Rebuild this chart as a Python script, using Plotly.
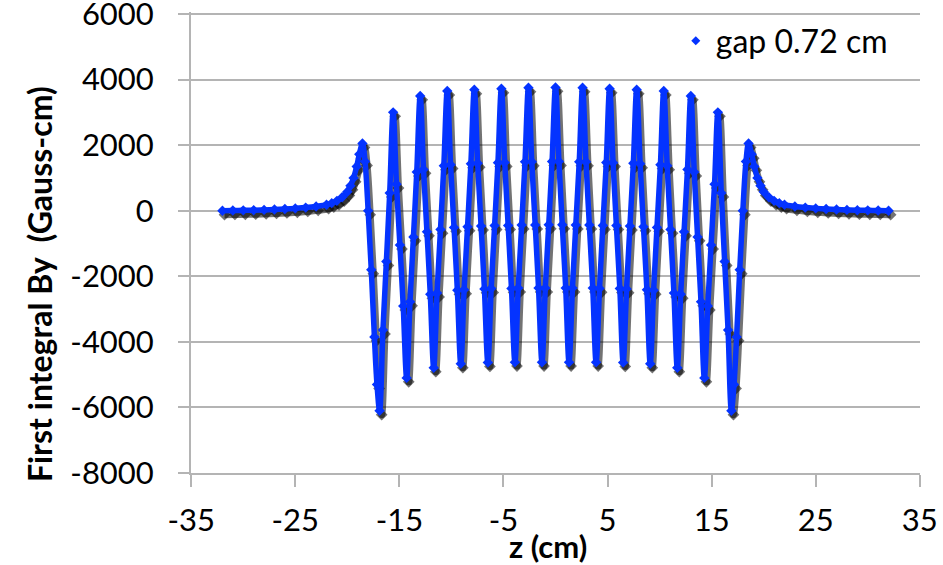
import plotly.graph_objects as go

# ---- data ----
z_cm = [
    -32.0, -31.0, -30.0, -29.0, -28.0, -27.0, -26.0, -25.0, -24.0, -23.0,
    -22.0, -21.5, -21.0, -20.5, -20.0, -19.7, -19.4, -19.1, -18.85, -18.55,
    -18.3, -18.0, -17.7, -17.4, -17.15, -16.9,
    -16.58, -16.25, -15.93, -15.6,
    -15.28, -14.95, -14.63, -14.3,
    -13.98, -13.65, -13.33, -13.0,
    -12.68, -12.35, -12.03, -11.7,
    -11.38, -11.05, -10.73, -10.4,
    -10.08, -9.75, -9.43, -9.1,
    -8.78, -8.45, -8.13, -7.8,
    -7.48, -7.15, -6.83, -6.5,
    -6.18, -5.85, -5.53, -5.2,
    -4.88, -4.55, -4.23, -3.9,
    -3.58, -3.25, -2.93, -2.6,
    -2.28, -1.95, -1.63, -1.3,
    -0.98, -0.65, -0.33, 0.0,
    0.33, 0.65, 0.98, 1.3,
    1.63, 1.95, 2.28, 2.6,
    2.93, 3.25, 3.58, 3.9,
    4.23, 4.55, 4.88, 5.2,
    5.53, 5.85, 6.18, 6.5,
    6.83, 7.15, 7.48, 7.8,
    8.13, 8.45, 8.78, 9.1,
    9.43, 9.75, 10.08, 10.4,
    10.73, 11.05, 11.38, 11.7,
    12.03, 12.35, 12.68, 13.0,
    13.33, 13.65, 13.98, 14.3,
    14.63, 14.95, 15.28, 15.6,
    15.93, 16.25, 16.58, 16.9,
    17.15, 17.4, 17.7, 18.0, 18.3,
    18.55, 18.85, 19.1, 19.4, 19.7, 20.0, 20.5, 21.0, 21.5, 22.0,
    23.0, 24.0, 25.0, 26.0, 27.0, 28.0, 29.0, 30.0, 31.0, 32.0,
]

by_gauss_cm = [
    0, 5, 10, 15, 25, 35, 50, 70, 95, 130,
    180, 230, 300, 410, 580, 760, 1000, 1350, 1720, 2050,
    1500, 0, -1800, -3850, -5300, -6100,
    -3640, -1550, 540, 3000,
    810, -1050, -2910, -5100,
    -2780, -800, 1180, 3500,
    1260, -645, -2550, -4790,
    -2510, -570, 1370, 3650,
    1405, -510, -2425, -4670,
    -2410, -490, 1430, 3690,
    1445, -470, -2385, -4630,
    -2375, -455, 1465, 3720,
    1470, -450, -2370, -4620,
    -2360, -435, 1490, 3750,
    1490, -435, -2360, -4620,
    -2360, -430, 1500, 3760,
    1500, -430, -2360, -4620,
    -2360, -435, 1490, 3750,
    1490, -435, -2360, -4620,
    -2370, -450, 1470, 3720,
    1465, -455, -2375, -4630,
    -2385, -470, 1445, 3690,
    1430, -490, -2410, -4670,
    -2425, -510, 1405, 3650,
    1370, -570, -2510, -4790,
    -2550, -645, 1260, 3500,
    1180, -800, -2780, -5100,
    -2910, -1050, 810, 3000,
    540, -1550, -3640, -6100,
    -5300, -3850, -1800, 0, 1500,
    2050, 1720, 1350, 1000, 760, 580, 410, 300, 230, 180,
    130, 95, 70, 50, 35, 25, 15, 10, 5, 0,
]

series_name = "gap 0.72 cm"
x_title = "z (cm)"
y_title = "First integral By\u00a0\u00a0(Gauss-cm)"
x_ticks = [-35, -25, -15, -5, 5, 15, 25, 35]
y_ticks = [-8000, -6000, -4000, -2000, 0, 2000, 4000, 6000]

# ---- styling ----
BLUE = "#0433ff"
GRID = "#b4b4b4"
FONT = "Lato"
X_RANGE = [-35.02, 35.02]
Y_RANGE = [-8000, 6060]

fig = go.Figure()

# legend entry on the visible base axes (small diamond like the reference)
fig.add_trace(go.Scatter(
    x=[None], y=[None], xaxis="x", yaxis="y",
    mode="markers", marker=dict(symbol="diamond", size=7, color=BLUE),
    name=series_name,
))

# soft black drop shadow (overlay axes with ranges offset ~2px right, ~4px down)
fig.add_trace(go.Scatter(
    x=z_cm, y=by_gauss_cm, xaxis="x2", yaxis="y2",
    mode="lines+markers", line=dict(color="rgba(0,0,0,0.55)", width=7, shape="spline"),
    marker=dict(symbol="diamond", size=9, color="rgba(0,0,0,0.55)"),
    showlegend=False, hoverinfo="skip",
))

# main series (overlay axes identical to the visible ones)
fig.add_trace(go.Scatter(
    x=z_cm, y=by_gauss_cm, xaxis="x3", yaxis="y3",
    mode="lines+markers", line=dict(color=BLUE, width=5.5, shape="spline"),
    marker=dict(symbol="diamond", size=8, color=BLUE),
    showlegend=False,
))

hidden = dict(visible=False, fixedrange=True, automargin=False)

fig.update_layout(
    width=943, height=565,
    margin=dict(l=191, r=23, t=12, b=92, autoexpand=False),
    paper_bgcolor="white", plot_bgcolor="white",
    font=dict(family=FONT, color="black", size=30),
    xaxis=dict(
        range=X_RANGE, tickmode="array", tickvals=x_ticks,
        ticktext=[str(v) for v in x_ticks],
        showgrid=False, zeroline=False, showline=True, linecolor=GRID, linewidth=2,
        ticks="outside", ticklen=12, tickwidth=2, tickcolor=GRID,
        tickfont=dict(family=FONT, size=31, color="black"), ticklabelstandoff=7,
        ticklabeloverflow="allow", automargin=False, fixedrange=True,
    ),
    yaxis=dict(
        range=Y_RANGE, tickmode="array", tickvals=y_ticks,
        ticktext=[str(v) for v in y_ticks],
        showgrid=True, gridcolor=GRID, gridwidth=2, zeroline=False,
        showline=True, linecolor=GRID, linewidth=2,
        ticks="outside", ticklen=11, tickwidth=2, tickcolor=GRID,
        tickfont=dict(family=FONT, size=31, color="black"), ticklabelstandoff=18,
        ticklabeloverflow="allow", automargin=False, fixedrange=True,
    ),
    xaxis2=dict(overlaying="x", range=[X_RANGE[0] - 0.2, X_RANGE[1] - 0.2], **hidden),
    yaxis2=dict(overlaying="y", range=[Y_RANGE[0] + 120, Y_RANGE[1] + 120], **hidden),
    xaxis3=dict(overlaying="x", range=X_RANGE, **hidden),
    yaxis3=dict(overlaying="y", range=Y_RANGE, **hidden),
    legend=dict(x=0.665, y=0.997, xanchor="left", yanchor="top",
                font=dict(family=FONT, size=32, color="black"),
                bgcolor="rgba(0,0,0,0)", itemwidth=30),
    annotations=[
        dict(text="<b>" + x_title + "</b>", xref="paper", yref="paper",
             x=0.49, y=-0.159, xanchor="center", yanchor="middle", showarrow=False,
             font=dict(family=FONT, size=31, color="black")),
        dict(text="<b>" + y_title + "</b>", xref="paper", yref="paper",
             x=-0.207, y=0.41, xanchor="center", yanchor="middle", showarrow=False,
             textangle=-90, font=dict(family=FONT, size=32, color="black")),
    ],
)

fig.write_html(
    "out.html",
    config={"displayModeBar": False},
    post_script="document.body.style.margin='0';document.body.style.overflow='hidden';",
)
